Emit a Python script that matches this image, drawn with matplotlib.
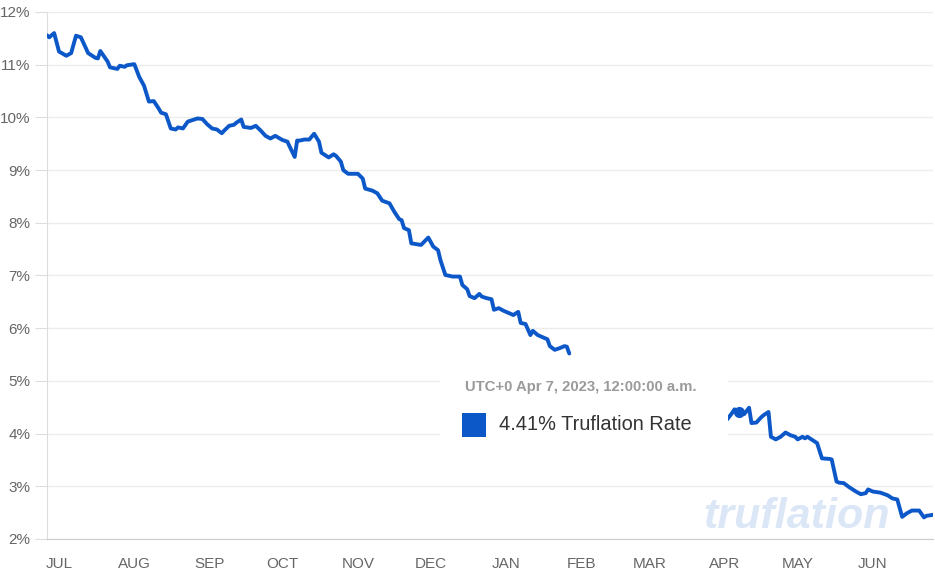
import matplotlib
matplotlib.use("Agg")
import matplotlib.pyplot as plt
import matplotlib.dates as mdates
from matplotlib.patches import Rectangle
import numpy as np
import pandas as pd

plt.rcParams['font.family'] = ['Liberation Sans', 'DejaVu Sans']

# Days counted from 2022-07-01, and Truflation rate (%)
start_date = "2022-07-01"
day_offsets_a = [-5, -4, -2, 0, 3, 5, 7, 9, 12, 15, 16, 17, 20, 21, 24, 25, 27, 28, 31,
                 33, 35, 37, 39, 41, 42, 44, 46, 48, 49, 51, 53, 55, 57, 59, 61, 63, 65,
                 67, 68, 70, 72, 73, 75, 76, 79, 81, 83, 85, 87, 89, 92, 94, 95, 97, 98,
                 99, 101, 103, 105, 107, 108, 111, 113, 114, 116, 117, 119, 123, 125, 126,
                 129, 131, 133, 136, 138, 140, 141, 142, 144, 145, 149, 152, 154, 156, 157,
                 159, 162, 165, 166, 168, 169, 171, 173, 174, 176, 178, 179, 181, 183, 184,
                 186, 187, 189, 190, 192, 194, 195, 197, 199, 201, 202, 204, 206, 208, 209,
                 210]
rate_a = [11.56, 11.52, 11.60, 11.25, 11.17, 11.22, 11.55, 11.52, 11.22, 11.13, 11.12,
          11.26, 11.06, 10.95, 10.92, 10.98, 10.96, 10.99, 11.01, 10.77, 10.60, 10.30,
          10.31, 10.17, 10.09, 10.06, 9.79, 9.77, 9.81, 9.79, 9.92, 9.95, 9.98, 9.97,
          9.87, 9.79, 9.77, 9.70, 9.75, 9.84, 9.86, 9.90, 9.96, 9.82, 9.80, 9.84, 9.75,
          9.65, 9.60, 9.65, 9.57, 9.54, 9.44, 9.25, 9.56, 9.56, 9.58, 9.58, 9.69, 9.54,
          9.33, 9.24, 9.30, 9.27, 9.16, 9.00, 8.93, 8.93, 8.84, 8.65, 8.61, 8.56, 8.42,
          8.37, 8.21, 8.07, 8.05, 7.90, 7.86, 7.61, 7.58, 7.72, 7.55, 7.48, 7.29, 7.01,
          6.98, 6.98, 6.82, 6.74, 6.61, 6.57, 6.65, 6.60, 6.57, 6.55, 6.35, 6.38, 6.33,
          6.31, 6.27, 6.25, 6.31, 6.10, 6.08, 5.87, 5.95, 5.87, 5.83, 5.79, 5.66, 5.59,
          5.62, 5.66, 5.65, 5.52]
day_offsets_b = [275, 277, 278, 280, 282, 284, 285, 287, 289, 290, 292, 293, 295, 297,
                 299, 301, 303, 304, 306, 307, 308, 310, 312, 314, 317, 318, 320, 321,
                 323, 325, 328, 330, 332, 333, 335, 338, 341, 343, 345, 347, 349, 351,
                 354, 356, 357, 360]
rate_b = [4.27, 4.39, 4.46, 4.41, 4.37, 4.49, 4.20, 4.21, 4.31, 4.35, 4.41, 3.94, 3.89,
          3.94, 4.02, 3.97, 3.94, 3.89, 3.94, 3.91, 3.94, 3.88, 3.82, 3.53, 3.52, 3.51,
          3.09, 3.07, 3.06, 2.99, 2.90, 2.85, 2.87, 2.94, 2.90, 2.88, 2.83, 2.77, 2.75,
          2.42, 2.49, 2.54, 2.54, 2.41, 2.44, 2.46]

y_ticks = [2, 3, 4, 5, 6, 7, 8, 9, 10, 11, 12]
y_tick_labels = [f"{v}%" for v in y_ticks]

tooltip_date = "2023-04-07"
tooltip_value = 4.41
tooltip_title = "UTC+0 Apr 7, 2023, 12:00:00 a.m."
tooltip_label = f"{tooltip_value:.2f}% Truflation Rate"
watermark = "truflation"

LINE = "#0d58c9"
W, H = 935, 575
fig = plt.figure(figsize=(W / 100, H / 100), dpi=100)
ax = fig.add_axes([47 / W, (H - 539) / H, (933 - 47) / W, (539 - 12) / H])

t0 = pd.Timestamp(start_date)
dates_a = t0 + pd.to_timedelta(day_offsets_a, unit="D")
dates_b = t0 + pd.to_timedelta(day_offsets_b, unit="D")
dates = list(dates_a) + [dates_a[-1] + pd.Timedelta(days=1)] + list(dates_b)
vals = rate_a + [np.nan] + rate_b
ax.plot(dates, vals, color=LINE, lw=2.8, solid_joinstyle="round",
        solid_capstyle="round", zorder=3)
ax.plot([pd.Timestamp(tooltip_date)], [tooltip_value], marker="o", ms=7,
        color=LINE, zorder=4)

ax.set_xlim(t0 + pd.Timedelta(days=-4.94), t0 + pd.Timedelta(days=359.7))
ax.set_ylim(2, 12)
ax.set_yticks(y_ticks)
ax.set_yticklabels(y_tick_labels)
ax.grid(axis="y", color="#ececec", lw=1)
ax.grid(axis="x", visible=False)
ax.set_axisbelow(True)
for s in ["top", "right"]:
    ax.spines[s].set_visible(False)
ax.spines["left"].set_color("#dddddd")
ax.spines["bottom"].set_color("#cccccc")
ax.tick_params(axis="y", length=9, color="#dddddd", labelsize=11,
               labelcolor="#666666", pad=3)
ax.tick_params(axis="x", length=0, labelsize=11, labelcolor="#666666", pad=13)
ax.xaxis.set_major_locator(mdates.MonthLocator())
ax.xaxis.set_major_formatter(mdates.DateFormatter("%b"))
fig.canvas.draw()
ax.set_xticks(ax.get_xticks())
ax.set_xticklabels([mdates.num2date(v).strftime("%b").upper() for v in ax.get_xticks()])

# watermark
ax.text(703 / W, 1 - 528 / H, watermark, transform=fig.transFigure, fontsize=31,
        fontweight="bold", style="italic", color="#dbe6f6", zorder=1,
        ha="left", va="baseline")

# tooltip box
fig.add_artist(Rectangle((440 / W, 1 - 448 / H), (728 - 440) / W, (448 - 356) / H,
                         transform=fig.transFigure, facecolor="white",
                         edgecolor="none", zorder=5))
fig.text(465 / W, 1 - 387 / H, tooltip_title, fontsize=10.7, fontweight="bold",
         color="#9a9a9a", ha="left", va="center", zorder=6)
fig.add_artist(Rectangle((462 / W, 1 - 437 / H), 24 / W, 24 / H,
                         transform=fig.transFigure, facecolor=LINE,
                         edgecolor="none", zorder=6))
fig.text(499 / W, 1 - 425 / H, tooltip_label, fontsize=14.4, color="#333333",
         ha="left", va="center", zorder=6)

fig.savefig("out.png", dpi=100)
